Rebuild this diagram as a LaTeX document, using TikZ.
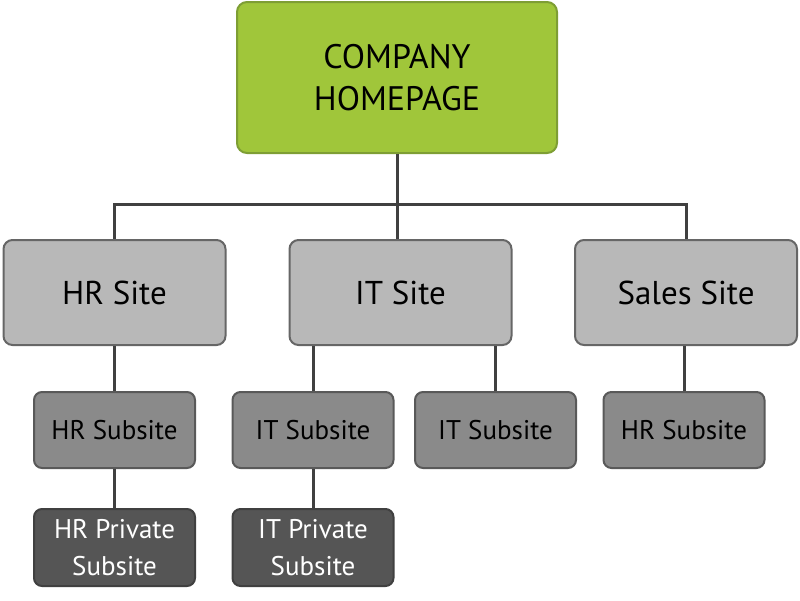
\documentclass[tikz,border=0pt]{standalone}
\usepackage{fontspec}
\setmainfont{PT Sans}
\definecolor{homegreen}{HTML}{A0C63A}
\definecolor{homeedge}{HTML}{7E9E34}
\definecolor{sitegray}{HTML}{B8B8B8}
\definecolor{subgray}{HTML}{8A8A8A}
\definecolor{privgray}{HTML}{555555}
\tikzset{
  homebox/.style={draw=homeedge, fill=homegreen, line width=2pt, rounded corners=10pt,
    minimum width=320pt, minimum height=151pt, align=center, font=\fontsize{34}{42}\selectfont},
  sitebox/.style={draw=black!60, fill=sitegray, line width=2pt, rounded corners=9pt,
    minimum width=222pt, minimum height=105pt, font=\fontsize{33}{40}\selectfont},
  subbox/.style={draw=black!65, fill=subgray, line width=2pt, rounded corners=8pt,
    minimum width=161pt, minimum height=76pt, font=\fontsize{27}{32}\selectfont},
  privbox/.style={draw=black!75, fill=privgray, line width=2pt, rounded corners=8pt, text=white,
    minimum width=161pt, minimum height=77pt, align=center, font=\fontsize{27}{37}\selectfont},
  link/.style={draw=black!75, line width=3pt}
}

\begin{document}
\begin{tikzpicture}[x=1pt, y=-1pt]
      \useasboundingbox (0, 0) rectangle (800, 600);
      \node[homebox] (home) at (397, 77.5) {COMPANY\\HOMEPAGE};
      \node[sitebox] (hr) at (114.5, 292.5) {HR Site};
      \node[sitebox] (it) at (400.5, 292.5) {IT Site};
      \node[sitebox] (sales) at (686, 292.5) {Sales Site};
      \node[subbox] (hrsub) at (114.5, 430) {HR Subsite};
      \node[subbox] (itsubA) at (313, 430) {IT Subsite};
      \node[subbox] (itsubB) at (495.5, 430) {IT Subsite};
      \node[subbox] (salessub) at (684, 430) {HR Subsite};
      \node[privbox] (hrpriv) at (114.5, 547.5) {HR Private\\Subsite};
      \node[privbox] (itpriv) at (313, 547.5) {IT Private\\Subsite};
      \coordinate (bus) at (397, 204);
      \draw[link] (home) -- (bus);
      \draw[link] (hr.north) |- (bus) -| (sales.north);
      \draw[link] (bus) -- (bus |- it.north);
      \draw[link] (hr) -- (hrsub);
      \draw[link] (hrsub) -- (hrpriv);
      \draw[link] (itsubA.north) -- (itsubA.north |- it.south);
      \draw[link] (itsubB.north) -- (itsubB.north |- it.south);
      \draw[link] (itsubA) -- (itpriv);
      \draw[link] (salessub.north) -- (salessub.north |- sales.south);
    \end{tikzpicture}
\end{document}
